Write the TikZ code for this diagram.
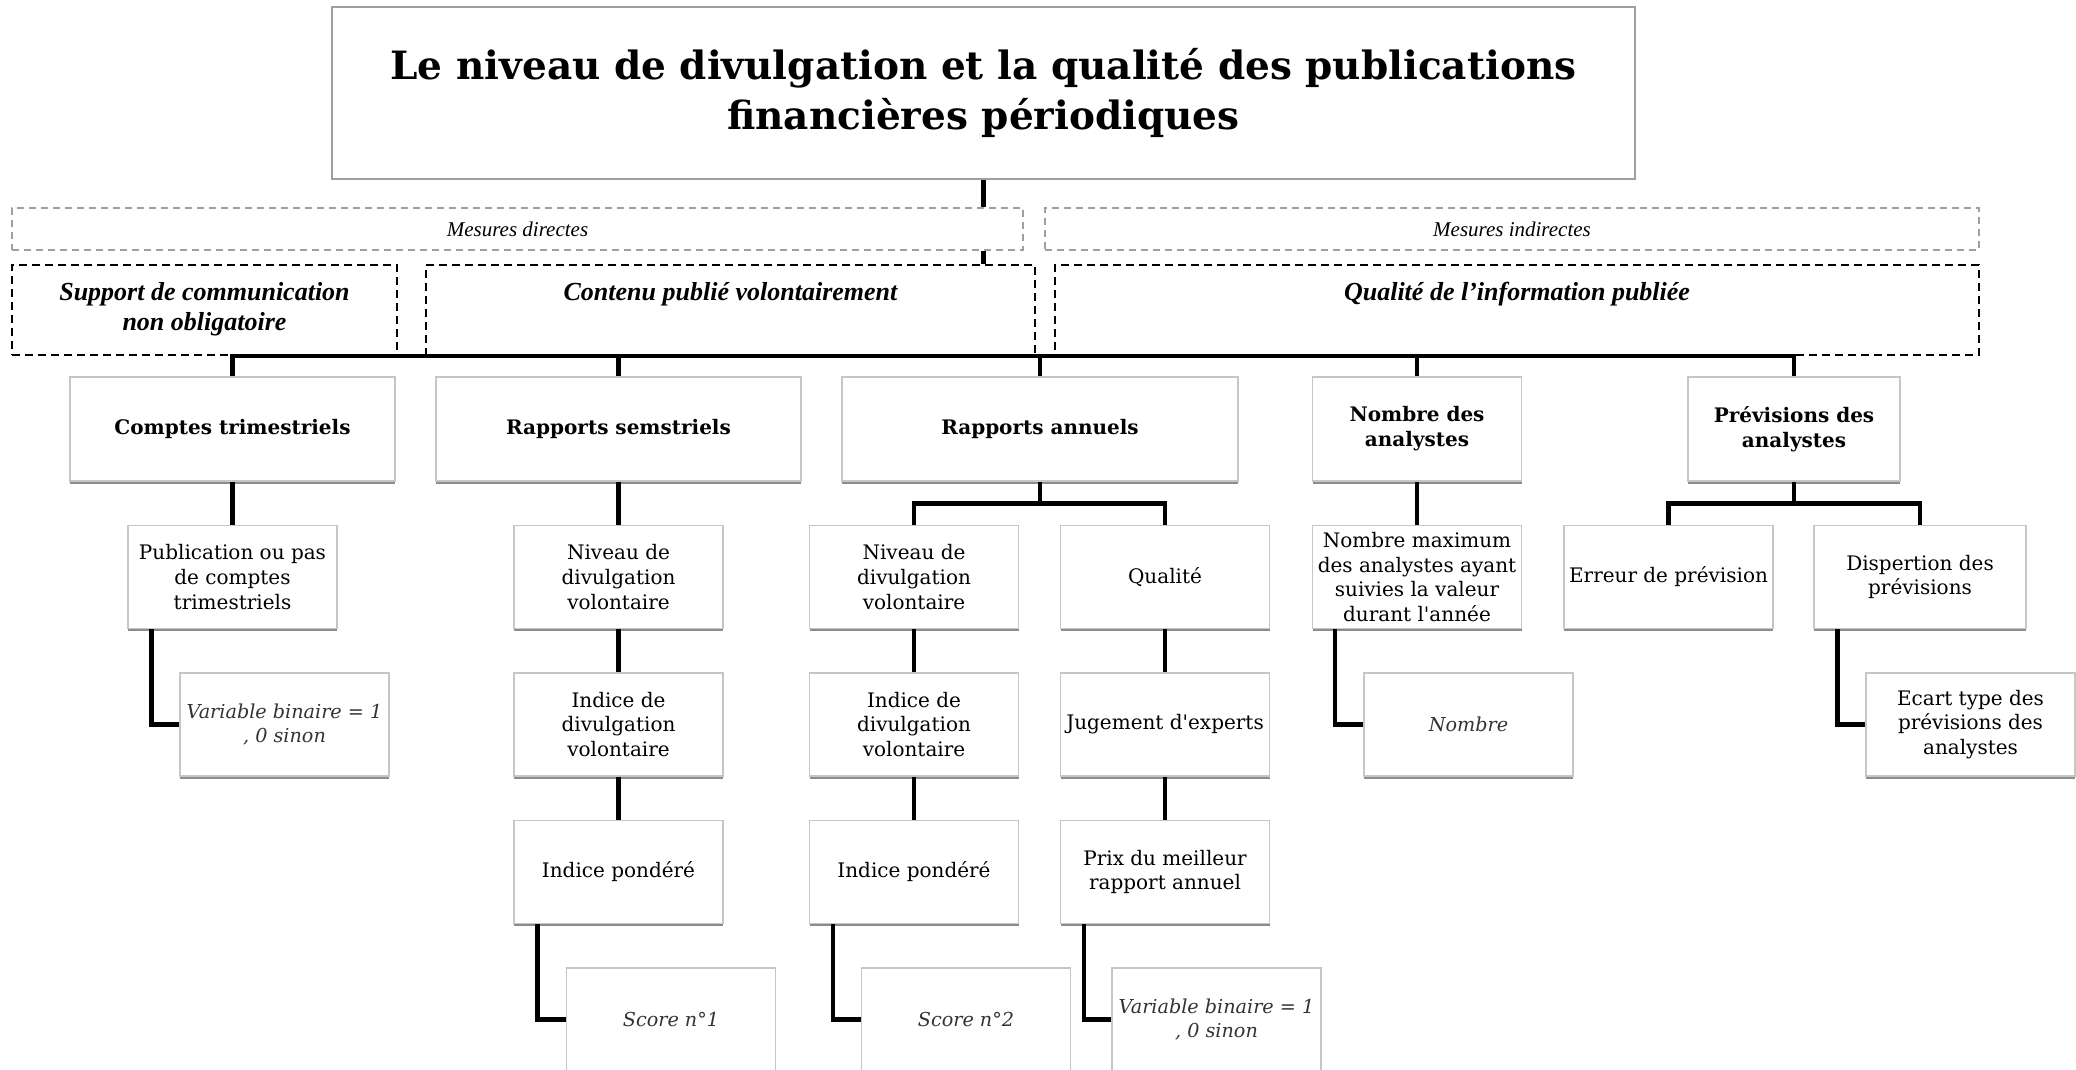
\documentclass[tikz,border=0pt]{standalone}
\usepackage{fontspec}
\setmainfont{DejaVu Serif}
\newfontfamily\bodyf{DejaVu Serif}
\newfontfamily\timesf{Liberation Serif}
\usetikzlibrary{shadows}
\tikzset{
  conn/.style={line width=2.4pt, draw=black},
  box/.style={draw=gray!45, line width=0.6pt, fill=white, align=center, inner sep=1pt,
    minimum height=51.5pt, minimum width=104.5pt,
    font=\bodyf\fontsize{10}{12.3}\selectfont,
    general shadow={shadow yshift=-1.3pt, fill=gray!90}},
  boxone/.style={box, minimum height=52pt, font=\bodyf\fontsize{10}{12.6}\selectfont\bfseries},
  ibox/.style={box, font=\bodyf\fontsize{9.6}{12.3}\selectfont\itshape, text=black!80},
  mbox/.style={draw=gray!75, line width=0.75pt, dash pattern=on 3.5pt off 2.5pt, fill=white,
    minimum height=21pt, font=\timesf\fontsize{10.5}{12}\selectfont\itshape},
  dbox/.style={draw=black, line width=0.9pt, dash pattern=on 4pt off 2.5pt, fill=white, minimum height=45pt},
  dlabel/.style={align=center, inner sep=0pt, font=\timesf\fontsize{13}{15}\selectfont\bfseries\itshape},
  titlebox/.style={draw=gray!75, line width=1pt, fill=white, align=center,
    minimum width=651.5pt, minimum height=86pt, font=\bodyf\fontsize{19.5}{25}\selectfont\bfseries}
}
\begin{document}
\begin{tikzpicture}[x=0.5pt,y=-0.5pt]
\useasboundingbox (0,0) rectangle (2076,1070);
\clip (0,0) rectangle (2076,1070);
\fill[white] (0,0) rectangle (2076,1070);

% title and measure bands
\node[titlebox] (title) at (983.5,93) {Le niveau de divulgation et la qualité des publications\\financières périodiques};
\node[mbox, minimum width=505.5pt] (md) at (517.5,229) {Mesures directes};
\node[mbox, minimum width=467pt] (mi) at (1512,229) {Mesures indirectes};
\node[dbox, minimum width=192.5pt] (sup) at (204.5,310) {};
\node[dbox, minimum width=304.5pt] (cont) at (730.5,310) {};
\node[dbox, minimum width=462pt] (qinf) at (1517,310) {};
\node[dlabel, anchor=north] (supt) at ([yshift=-9pt]sup.north) {Support de communication\\non obligatoire};
\node[dlabel, anchor=north] (contt) at ([yshift=-9pt]cont.north) {Contenu publié volontairement};
\node[dlabel, anchor=north] (qinft) at ([yshift=-9pt]qinf.north) {Qualité de l’information publiée};

% level 1
\node[boxone, minimum width=162.5pt] (comptes) at (232.5,429) {Comptes trimestriels};
\node[boxone, minimum width=182.5pt] (sem) at (618.5,429) {Rapports semstriels};
\node[boxone, minimum width=198pt] (ann) at (1040,429) {Rapports annuels};
\node[boxone] (nba) at (1417,429) {Nombre des\\analystes};
\node[boxone, minimum width=106pt] (prev) at (1794,429) {Prévisions des\\analystes};

% level 2
\node[box] (pub) at (232.5,577) {Publication ou pas\\de comptes\\trimestriels};
\node[box] (niv1) at (618.5,577) {Niveau de\\divulgation\\volontaire};
\node[box] (niv2) at (914,577) {Niveau de\\divulgation\\volontaire};
\node[box] (qual) at (1165,577) {Qualité};
\node[box] (nbmax) at (1417,577) {Nombre maximum\\des analystes ayant\\suivies la valeur\\durant l'année};
\node[box] (err) at (1668.5,577) {Erreur de prévision};
\node[box, minimum width=106pt] (disp) at (1920,577) {Dispertion des\\prévisions};

% level 3
\node[ibox] (var1) at (284.5,724.5) {Variable binaire = 1\\, 0 sinon};
\node[box] (ind1) at (618.5,724.5) {Indice de\\divulgation\\volontaire};
\node[box] (ind2) at (914,724.5) {Indice de\\divulgation\\volontaire};
\node[box] (jug) at (1165,724.5) {Jugement d'experts};
\node[ibox] (nomb) at (1468.5,724.5) {Nombre};
\node[box] (ecart) at (1970.5,724.5) {Ecart type des\\prévisions des\\analystes};

% level 4
\node[box] (pond1) at (618.5,872) {Indice pondéré};
\node[box] (pond2) at (914,872) {Indice pondéré};
\node[box] (prix) at (1165,872) {Prix du meilleur\\rapport annuel};

% level 5
\node[ibox] (score1) at (671,1019.5) {Score n°1};
\node[ibox] (score2) at (966,1019.5) {Score n°2};
\node[ibox] (var2) at (1216.5,1019.5) {Variable binaire = 1\\, 0 sinon};

% connectors
\draw[conn] (title.south) -- (title.south |- md.north);
\draw[conn] (title.south |- md.south) -- (title.south |- cont.north);
\draw[conn] (comptes.north) |- (prev.north |- sup.south) -- (prev.north);
\foreach \n in {sem,ann,nba} \draw[conn] (\n.north |- sup.south) -- (\n.north);

\draw[conn] (comptes.south) -- (pub.north);
\draw[conn] ([xshift=12pt]pub.south west) |- (var1.west);

\draw[conn] (sem.south) -- (niv1.north);
\draw[conn] (niv1.south) -- (ind1.north);
\draw[conn] (ind1.south) -- (pond1.north);
\draw[conn] ([xshift=12pt]pond1.south west) |- (score1.west);

\path (ann.south) ++(0,22) coordinate (annb);
\draw[conn] (ann.south) -- (annb);
\draw[conn] (niv2.north) |- (annb) -| (qual.north);
\draw[conn] (niv2.south) -- (ind2.north);
\draw[conn] (ind2.south) -- (pond2.north);
\draw[conn] ([xshift=12pt]pond2.south west) |- (score2.west);
\draw[conn] (qual.south) -- (jug.north);
\draw[conn] (jug.south) -- (prix.north);
\draw[conn] ([xshift=12pt]prix.south west) |- (var2.west);

\draw[conn] (nba.south) -- (nbmax.north);
\draw[conn] ([xshift=11.5pt]nbmax.south west) |- (nomb.west);

\path (prev.south) ++(0,22) coordinate (prevb);
\draw[conn] (prev.south) -- (prevb);
\draw[conn] (err.north) |- (prevb) -| (disp.north);
\draw[conn] ([xshift=12pt]disp.south west) |- (ecart.west);
\end{tikzpicture}
\end{document}
